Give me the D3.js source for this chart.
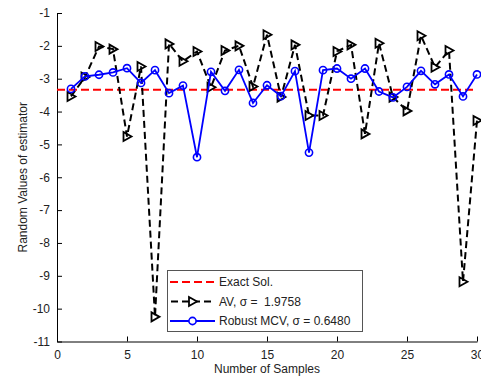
<!DOCTYPE html>
<html>
<head>
<meta charset="utf-8">
<script src="https://cdn.jsdelivr.net/npm/d3@7"></script>
<style>
  html, body { margin: 0; padding: 0; background: #fff; }
  svg text { font-family: "Liberation Sans", Arial, Helvetica, sans-serif; }
</style>
</head>
<body>
<svg id="chart" width="481" height="379"></svg>
<script>
const samples = d3.range(1, 31);
const avValues = [-3.54, -2.95, -2.02, -2.10, -4.76, -2.63, -10.25, -1.94, -2.47, -2.17,
                  -3.26, -2.14, -2.00, -3.24, -1.66, -3.56, -1.97, -4.12, -4.12, -2.17,
                  -1.97, -4.68, -1.92, -3.56, -3.98, -1.69, -2.65, -2.14, -9.18, -4.27];
const mcvValues = [-3.31, -2.93, -2.88, -2.81, -2.68, -3.13, -2.74, -3.44, -3.21, -5.39,
                   -2.79, -3.37, -2.73, -3.74, -3.20, -3.53, -2.77, -5.25, -2.74, -2.69,
                   -3.00, -2.69, -3.39, -3.57, -3.25, -2.76, -3.17, -2.87, -3.54, -2.87];
const exactValue = -3.34;
const xTicks = [0, 5, 10, 15, 20, 25, 30];
const yTicks = [-1, -2, -3, -4, -5, -6, -7, -8, -9, -10, -11];
const legendLabels = ["Exact Sol.", "AV, \u03c3 =  1.9758", "Robust MCV, \u03c3 = 0.6480"];

const svg = d3.select("#chart");
const mLeft = 57, mRight = 477, mTop = 13, mBottom = 341.5;
const x = d3.scaleLinear().domain([0, 30]).range([mLeft, mRight]);
const y = d3.scaleLinear().domain([-11, -1]).range([mBottom, mTop]);
const fmt = d => String(d);

// Axes (MATLAB style, ticks inward, box off)
const xAxis = svg.append("g").attr("transform", `translate(0,${mBottom})`)
  .call(d3.axisBottom(x).tickValues(xTicks).tickFormat(fmt).tickSize(-5).tickPadding(9).tickSizeOuter(0));
const yAxis = svg.append("g").attr("transform", `translate(${mLeft},0)`)
  .call(d3.axisLeft(y).tickValues(yTicks).tickFormat(fmt).tickSize(-5).tickPadding(7).tickSizeOuter(0));
[xAxis, yAxis].forEach(g => {
  g.select(".domain").attr("stroke", "#000").attr("stroke-width", 1);
  g.selectAll(".tick line").attr("stroke", "#000");
  g.selectAll(".tick text").attr("font-size", 12).attr("fill", "#222")
    .attr("font-family", "Liberation Sans, Arial, sans-serif");
});

// Axis labels
svg.append("text").attr("x", (mLeft + mRight) / 2).attr("y", 373)
  .attr("text-anchor", "middle").attr("font-size", 12).attr("fill", "#222")
  .text("Number of Samples");
svg.append("text")
  .attr("transform", `translate(27,${(mTop + mBottom) / 2}) rotate(-90)`)
  .attr("text-anchor", "middle").attr("font-size", 12).attr("fill", "#222")
  .text("Random Values of estimator");

// Exact solution
svg.append("line")
  .attr("x1", x(0)).attr("x2", x(30))
  .attr("y1", y(exactValue)).attr("y2", y(exactValue))
  .attr("stroke", "#ff0000").attr("stroke-width", 2).attr("stroke-dasharray", "8,4");

// AV series
const line = d3.line().x((d, i) => x(samples[i])).y(d => y(d));
svg.append("path").datum(avValues).attr("d", line)
  .attr("fill", "none").attr("stroke", "#000").attr("stroke-width", 2)
  .attr("stroke-dasharray", "7,4");
const tri = "M-3.5,-4.5 L4.5,0 L-3.5,4.5 Z";
svg.append("g").selectAll("path").data(avValues).join("path")
  .attr("transform", (d, i) => `translate(${x(samples[i])},${y(d)})`)
  .attr("d", tri).attr("fill", "none").attr("stroke", "#000").attr("stroke-width", 1.8);

// Robust MCV series
svg.append("path").datum(mcvValues).attr("d", line)
  .attr("fill", "none").attr("stroke", "#0000ff").attr("stroke-width", 1.8);
svg.append("g").selectAll("circle").data(mcvValues).join("circle")
  .attr("cx", (d, i) => x(samples[i])).attr("cy", d => y(d)).attr("r", 3.6)
  .attr("fill", "none").attr("stroke", "#0000ff").attr("stroke-width", 1.6);

// Legend
const lg = svg.append("g");
lg.append("rect").attr("x", 167.5).attr("y", 270.5).attr("width", 195).attr("height", 61)
  .attr("fill", "#fff").attr("stroke", "#555").attr("stroke-width", 1);
const ly = [282, 301.5, 321];
lg.append("line").attr("x1", 170).attr("x2", 215).attr("y1", ly[0]).attr("y2", ly[0])
  .attr("stroke", "#ff0000").attr("stroke-width", 2).attr("stroke-dasharray", "8,4");
lg.append("line").attr("x1", 170).attr("x2", 215).attr("y1", ly[1]).attr("y2", ly[1])
  .attr("stroke", "#000").attr("stroke-width", 2).attr("stroke-dasharray", "7,4")
  .attr("stroke-dashoffset", -1);
lg.append("path").attr("transform", `translate(192.5,${ly[1]})`).attr("d", tri)
  .attr("fill", "#fff").attr("stroke", "#000").attr("stroke-width", 1.8);
lg.append("line").attr("x1", 170).attr("x2", 215).attr("y1", ly[2]).attr("y2", ly[2])
  .attr("stroke", "#0000ff").attr("stroke-width", 1.8);
lg.append("circle").attr("cx", 192.5).attr("cy", ly[2]).attr("r", 3.6)
  .attr("fill", "#fff").attr("stroke", "#0000ff").attr("stroke-width", 1.6);
lg.selectAll("text.lab").data(legendLabels).join("text").attr("class", "lab")
  .attr("x", 219).attr("y", (d, i) => ly[i]).attr("dy", "0.35em")
  .attr("font-size", 12).attr("fill", "#222").style("white-space", "pre")
  .text(d => d);
</script>
</body>
</html>
